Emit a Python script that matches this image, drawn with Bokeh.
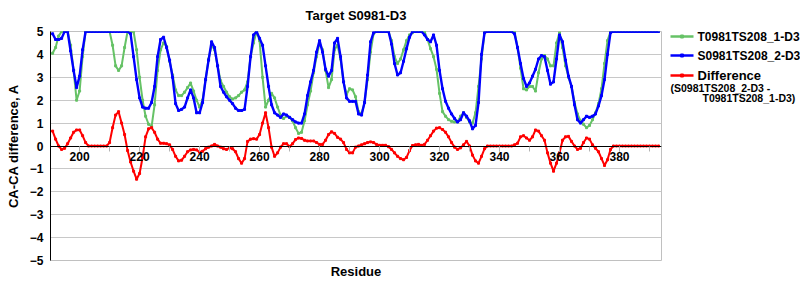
from bokeh.plotting import figure
from bokeh.models import (LinearAxis, SingleIntervalTicker, FixedTicker, Range1d,
                          ColumnDataSource)
from bokeh.layouts import row
from bokeh.embed import file_html
from bokeh.resources import INLINE
from bokeh.core.properties import value

# ---------------- data ----------------
residues = list(range(191, 394))

# T0981TS208_1-D3 (green)
model1 = [
    4.05, 4.3, 4.8, 5, 5, 5, 4.4, 3.3, 2.0, 2.4,            # 191-200
    3.9, 5, 5, 5, 5, 5, 5, 5, 5, 5,                          # 201-210
    4.4, 3.5, 3.3, 3.5, 4.3, 5, 5, 5, 4.2, 3.0,              # 211-220
    2.0, 1.3, 0.95, 0.85, 1.8, 3.3, 4.2, 4.5, 4.35, 3.7,     # 221-230
    3.1, 2.45, 2.2, 2.2, 2.35, 2.55, 2.75, 2.4, 2.0, 1.7,    # 231-240
    2.0, 2.9, 3.8, 4.4, 4.2, 3.5, 2.85, 2.6, 2.35, 2.15,     # 241-250
    2.05, 2.1, 2.2, 2.35, 2.45, 2.8, 3.9, 4.5, 5, 4.6,       # 251-260
    3.0, 1.7, 2.0, 2.3, 2.1, 1.7, 1.35, 1.2, 1.3, 1.25,      # 261-270
    1.1, 0.8, 0.55, 0.6, 1.1, 1.8, 2.4, 3.2, 3.9, 4.5,       # 271-280
    4.2, 3.3, 2.55, 2.9, 4.2, 4.4, 3.8, 2.8, 2.25, 2.5,      # 281-290
    2.45, 2.15, 1.5, 1.4, 1.9, 2.9, 4.1, 4.9, 5, 5,          # 291-300
    5, 5, 5, 4.6, 3.9, 3.6, 3.8, 4.2, 4.6, 4.85,             # 301-310
    4.95, 5, 5, 5, 5, 4.65, 4.25, 3.9, 3.35, 2.3,            # 311-320
    1.5, 1.3, 1.15, 1.08, 1.05, 1.05, 1.3, 1.45, 1.25, 1.05, # 321-330
    1.0, 1.45, 2.6, 3.8, 4.95, 5, 5, 5, 5, 5,                # 331-340
    5, 5, 5, 5, 5, 4.3, 3.4, 2.5, 2.45, 2.6,                 # 341-350
    2.6, 2.4, 3.2, 3.8, 3.95, 3.8, 3.5, 3.5, 4.5, 4.95,      # 351-360
    4.3, 3.5, 3.0, 2.6, 1.9, 1.4, 1.1, 0.95, 0.8, 0.9,       # 361-370
    1.15, 1.45, 1.85, 2.5, 3.6, 4.6, 5, 5, 5, 5,             # 371-380
    5, 5, 5, 5, 5, 5, 5, 5, 5, 5,                            # 381-390
    5, 5, 5,                                                 # 391-393
]

# S0981TS208_2-D3 (blue)
model2 = [
    4.9, 4.65, 4.65, 4.7, 5, 5, 4.15, 3.3, 2.55, 3.05,       # 191-200
    4.2, 5, 5, 5, 5, 5, 5, 5, 5, 5,                          # 201-210
    5, 5, 5, 5, 5, 5, 4.9, 3.9, 2.9, 2.1,                    # 211-220
    1.7, 1.65, 1.65, 1.9, 2.6, 3.9, 4.65, 4.75, 4.3, 3.75,   # 221-230
    3.0, 1.85, 1.55, 1.6, 1.7, 2.1, 2.45, 2.1, 1.45, 1.45,   # 231-240
    1.9, 2.9, 3.75, 4.55, 4.3, 3.5, 2.6, 2.35, 2.15, 2.0,    # 241-250
    1.85, 1.65, 1.55, 1.55, 1.6, 2.6, 3.9, 4.85, 5, 4.7,     # 251-260
    4.4, 3.5, 2.6, 1.8, 1.45, 1.35, 1.25, 1.4, 1.35, 1.25,   # 261-270
    1.15, 1.05, 1.0, 1.0, 1.4, 2.2, 2.8, 3.3, 4.1, 4.6,      # 271-280
    4.1, 3.35, 3.05, 3.3, 4.5, 4.7, 3.9, 2.8, 2.1, 1.95,     # 281-290
    1.95, 1.95, 1.4, 1.35, 1.9, 3.1, 4.55, 4.95, 5, 5,       # 291-300
    5, 5, 5, 4.45, 3.6, 3.1, 3.2, 3.7, 4.25, 4.75,           # 301-310
    5, 5, 5, 5, 4.85, 4.65, 4.55, 4.85, 4.4, 3.3,            # 311-320
    2.5, 1.95, 1.65, 1.4, 1.2, 1.05, 1.15, 1.45, 1.3, 1.1,   # 321-330
    0.75, 0.9, 1.9, 4.0, 4.95, 5, 5, 5, 5, 5,                # 331-340
    5, 5, 5, 5, 4.9, 4.3, 3.6, 2.95, 2.6, 2.75,              # 341-350
    3.05, 3.35, 3.8, 3.95, 3.9, 3.3, 2.7, 2.8, 3.8, 4.85,    # 351-360
    4.55, 3.75, 3.05, 2.6, 1.8, 1.15, 1.0, 1.15, 1.3, 1.25,  # 361-370
    1.3, 1.4, 1.75, 2.2, 2.9, 4.0, 4.95, 5, 5, 5,            # 371-380
    5, 5, 5, 5, 5, 5, 5, 5, 5, 5,                            # 381-390
    5, 5, 5,                                                 # 391-393
]

# Difference (S0981TS208_2-D3 - T0981TS208_1-D3) (red)
difference = [
    0.65, 0.3, 0.0, -0.15, -0.1, 0.1, 0.35, 0.6, 0.7, 0.7,           # 191-200
    0.45, 0.15, 0, 0, 0, 0, 0, 0, 0, 0.15,                           # 201-210
    0.8, 1.35, 1.5, 1.0, 0.5, -0.2, -0.7, -1.1, -1.45, -1.2,         # 211-220
    -0.5, 0.4, 0.75, 0.8, 0.6, 0.3, 0.12, 0.12, 0.1, 0.05,           # 221-230
    -0.15, -0.45, -0.65, -0.62, -0.45, -0.25, -0.17, -0.15, -0.17, -0.27,  # 231-240
    -0.23, -0.12, -0.05, 0.0, 0.07, 0.0, -0.05, -0.12, -0.15, -0.08, # 241-250
    -0.12, -0.25, -0.55, -0.75, -0.55, 0.2, 0.3, 0.32, 0.3, 0.5,     # 251-260
    1.0, 1.45, 0.8, -0.05, -0.45, -0.3, -0.05, 0.1, 0.1, -0.02,      # 261-270
    0.1, 0.28, 0.35, 0.33, 0.25, 0.22, 0.22, 0.22, 0.15, 0.07,       # 271-280
    0.07, 0.25, 0.5, 0.62, 0.55, 0.38, 0.3, 0.15, -0.15, -0.3,       # 281-290
    -0.3, -0.05, 0.0, 0.05, 0.1, 0.15, 0.18, 0.15, 0.07, 0.03,       # 291-300
    0.03, 0.03, -0.03, -0.15, -0.3, -0.45, -0.55, -0.6, -0.5, -0.2,  # 301-310
    0.02, 0.05, 0.07, 0.03, 0.07, 0.25, 0.45, 0.65, 0.78, 0.8,       # 311-320
    0.72, 0.6, 0.4, 0.15, -0.05, -0.15, -0.08, 0.05, 0.2, 0.0,       # 321-330
    -0.4, -0.65, -0.75, -0.45, -0.12, 0, 0, 0, 0, 0,                 # 331-340
    0, 0, 0, 0, 0.05, 0.12, 0.4, 0.45, 0.35, 0.25,                   # 341-350
    0.4, 0.7, 0.65, 0.45, 0.25, -0.3, -0.75, -1.1, -0.75, -0.3,      # 351-360
    0.25, 0.4, 0.42, 0.2, 0.0, -0.15, -0.1, 0.15, 0.35, 0.3,         # 361-370
    0.05, -0.1, -0.25, -0.55, -0.85, -0.6, -0.15, 0, 0, 0,           # 371-380
    0, 0, 0, 0, 0, 0, 0, 0, 0, 0,                                    # 381-390
    0, 0, 0,                                                         # 391-393
]

series_names = ["T0981TS208_1-D3", "S0981TS208_2-D3", "Difference"]
diff_note = ["(S0981TS208_2-D3 -", "T0981TS208_1-D3)"]
title_text = "Target S0981-D3"
x_label = "Residue"
y_label = "CA-CA difference, A"

GREEN = "#66c266"
BLUE = "#0000ff"
RED = "#ff0000"
FONT = "Liberation Sans"

# ---------------- main plot ----------------
src = ColumnDataSource(dict(residue=residues, m1=model1, m2=model2, diff=difference))

p = figure(width=662, height=300, x_range=Range1d(190.3, 394), y_range=Range1d(-5, 5),
           output_backend="svg", toolbar_location=None,
           min_border_left=50, min_border_right=1, min_border_top=31, min_border_bottom=40,
           title=title_text)
p.background_fill_color = "white"
p.border_fill_color = "white"
p.outline_line_color = "#c0c0c0"

p.title.text_font = FONT
p.title.text_font_size = "13px"
p.title.text_font_style = "bold"
p.title.text_color = "black"
p.title.align = "center"
p.title.vertical_align = "top"
p.title.standoff = 13

# x axis drawn at y = 0
xa = p.xaxis[0]
xa.fixed_location = 0
xa.ticker = SingleIntervalTicker(interval=20, num_minor_ticks=2)
xa.axis_line_color = "black"
xa.axis_line_width = 1
xa.major_tick_line_color = "#b4b4b4"
xa.minor_tick_line_color = "#b4b4b4"
xa.major_tick_in = 0
xa.major_tick_out = 5
xa.minor_tick_in = 0
xa.minor_tick_out = 5
xa.major_label_standoff = 1
xa.major_label_text_font = FONT
xa.major_label_text_font_style = "bold"
xa.major_label_text_font_size = "12px"
xa.major_label_text_color = "black"

# label-only axis at the bottom for "Residue"
xlab = LinearAxis(ticker=FixedTicker(ticks=[]), axis_label=x_label)
xlab.axis_line_color = None
xlab.major_tick_line_color = None
xlab.minor_tick_line_color = None
xlab.major_label_standoff = 0
xlab.axis_label_standoff = 3
xlab.axis_label_text_font = FONT
xlab.axis_label_text_font_style = "bold"
xlab.axis_label_text_font_size = "13px"
xlab.axis_label_text_color = "black"
p.add_layout(xlab, "below")

ya = p.yaxis[0]
ya.ticker = SingleIntervalTicker(interval=1, num_minor_ticks=0)
ya.axis_line_color = "black"
ya.major_tick_in = 0
ya.major_tick_out = 0
ya.minor_tick_line_color = None
ya.major_label_standoff = 7
ya.major_label_text_font = FONT
ya.major_label_text_font_style = "bold"
ya.major_label_text_font_size = "12px"
ya.major_label_text_color = "black"
ya.axis_label = y_label
ya.axis_label_standoff = 6
ya.axis_label_text_font = FONT
ya.axis_label_text_font_style = "bold"
ya.axis_label_text_font_size = "13px"
ya.axis_label_text_color = "black"

p.xgrid.grid_line_color = None
p.ygrid.grid_line_color = "#c8c8c8"
p.ygrid.grid_line_width = 1

p.line("residue", "m1", source=src, color=GREEN, line_width=2)
p.scatter("residue", "m1", source=src, marker="square", size=2, color=GREEN)
p.line("residue", "m2", source=src, color=BLUE, line_width=2.4)
p.scatter("residue", "m2", source=src, marker="square", size=2, color=BLUE)
p.line("residue", "diff", source=src, color=RED, line_width=2)
p.scatter("residue", "diff", source=src, marker="square", size=2, color=RED)

# ---------------- legend panel ----------------
# In a row, Bokeh aligns this panel's frame with the main frame (y 31..260),
# so the y range is set so that data units equal page pixels.
leg = figure(width=138, height=300, x_range=Range1d(0, 138), y_range=Range1d(260, 31),
             output_backend="svg", toolbar_location=None, min_border=0,
             x_axis_type=None, y_axis_type=None)
leg.outline_line_color = None
leg.grid.visible = False

rows_y = [36, 55, 75]
colors = [GREEN, BLUE, RED]
for yy, col in zip(rows_y, colors):
    leg.line(x=[8, 31], y=[yy, yy], color=col, line_width=2.5)
    leg.scatter(x=[19.5], y=[yy], marker="square", size=3, color=col)

leg_src = ColumnDataSource(dict(x=[35, 35], y=rows_y[:2], t=series_names[:2]))
leg.text(x="x", y="y", text="t", source=leg_src, text_font=value(FONT),
         text_font_style="bold", text_font_size="12px", text_baseline="middle",
         text_color="black")
leg.text(x=[35], y=[rows_y[2]], text=[series_names[2]], text_font=value(FONT),
         text_font_style="bold", text_font_size="13px", text_baseline="middle",
         text_color="black")
leg.text(x=[8, 40], y=[87, 97.5], text=diff_note, text_font=value(FONT),
         text_font_style="bold", text_font_size="10.5px", text_baseline="middle",
         text_color="black")

layout = row(p, leg)
open("out.html", "w").write(file_html(layout, INLINE))
